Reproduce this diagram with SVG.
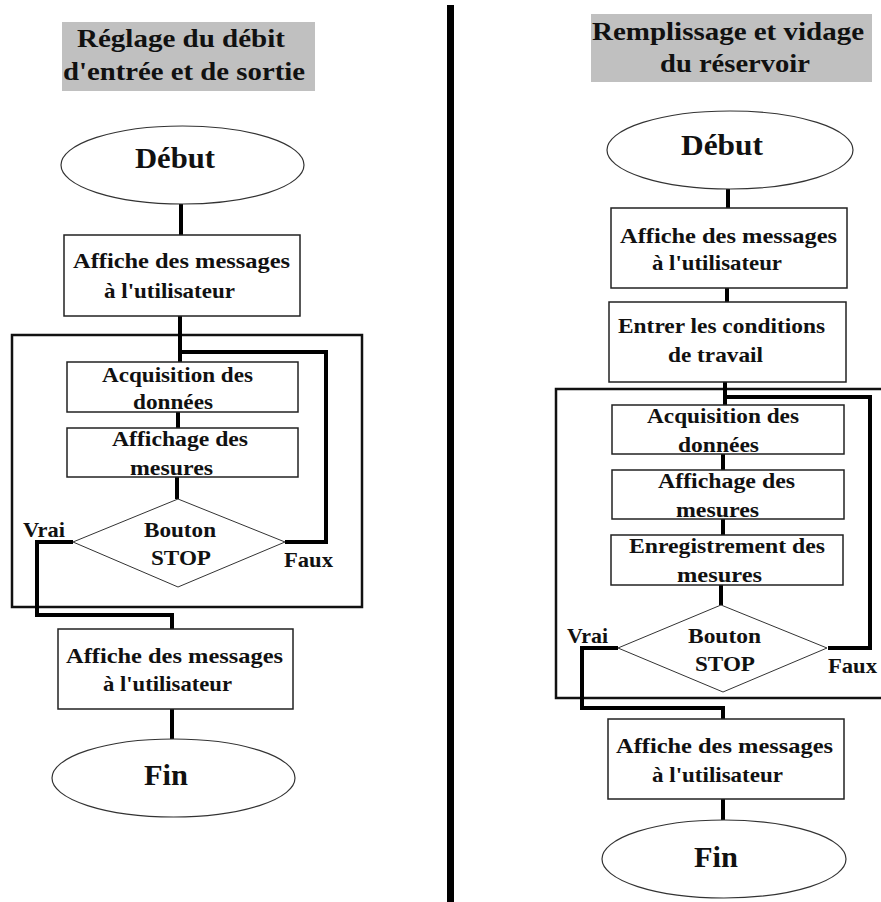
<svg xmlns="http://www.w3.org/2000/svg" width="881" height="902" viewBox="0 0 881 902">
<style>
text{font-family:"Liberation Serif","Times New Roman",serif;fill:#111;}
.t{font-size:25px;font-weight:bold;}
.big{font-size:30px;font-weight:bold;}
.b{font-size:21px;font-weight:bold;}
.lbl{font-size:21px;font-weight:bold;}
.title{fill:#c0c0c0;stroke:none;}
.box{fill:#fff;stroke:#222;stroke-width:1.5;}
.term{fill:#fff;stroke:#333;stroke-width:1.2;}
.dia{fill:#fff;stroke:#333;stroke-width:1;}
.frame{fill:none;stroke:#111;stroke-width:2.5;}
.c{fill:none;stroke:#000;stroke-width:4;}
</style>
<rect width="881" height="902" fill="#fff"/>
<rect id="divider" x="447" y="5" width="7" height="897" fill="#000"/>

<g id="left-title">
<rect class="title" x="62" y="22" width="253" height="69"/>
<text class="t" x="77" y="47" textLength="208" lengthAdjust="spacingAndGlyphs">Réglage du débit</text>
<text class="t" x="63" y="80" textLength="242" lengthAdjust="spacingAndGlyphs">d'entrée et de sortie</text>
</g>
<g id="right-title">
<rect class="title" x="591" y="14" width="281" height="68"/>
<text class="t" x="592" y="40" textLength="272" lengthAdjust="spacingAndGlyphs">Remplissage et vidage</text>
<text class="t" x="660" y="72" textLength="150" lengthAdjust="spacingAndGlyphs">du réservoir</text>
</g>

<g id="frames">
<rect class="frame" x="12" y="335" width="350" height="272"/>
<rect class="frame" x="556" y="389" width="340" height="309"/>
</g>

<g id="connectors">
<line class="c" x1="181" y1="204" x2="181" y2="235"/>
<path class="c" d="M180 316 V362"/>
<path class="c" d="M180 352 H326 V542 H285"/>
<line class="c" x1="178" y1="412" x2="178" y2="428"/>
<line class="c" x1="177" y1="477" x2="177" y2="499"/>
<path class="c" d="M73 542 H37 V615 H172 V629"/>
<line class="c" x1="172" y1="709" x2="172" y2="739"/>

<line class="c" x1="728" y1="189" x2="728" y2="208"/>
<line class="c" x1="727" y1="288" x2="727" y2="302"/>
<path class="c" d="M725 382 V405"/>
<path class="c" d="M725 397 H870 V648 H828"/>
<line class="c" x1="723" y1="454" x2="723" y2="470"/>
<line class="c" x1="723" y1="519" x2="723" y2="535"/>
<line class="c" x1="721" y1="585" x2="721" y2="605"/>
<path class="c" d="M618 648 H582 V708 H723 V719"/>
<line class="c" x1="723" y1="799" x2="723" y2="820"/>
</g>

<g id="L-debut">
<ellipse class="term" cx="182.5" cy="165" rx="121.5" ry="39"/>
<text class="big" x="135" y="168" textLength="80" lengthAdjust="spacingAndGlyphs">Début</text>
</g>
<g id="L-affiche1">
<rect class="box" x="64" y="235" width="236" height="81"/>
<text class="b" x="73" y="268" textLength="217" lengthAdjust="spacingAndGlyphs">Affiche des messages</text>
<text class="b" x="104" y="298" textLength="131" lengthAdjust="spacingAndGlyphs">à l'utilisateur</text>
</g>
<g id="L-acq">
<rect class="box" x="67" y="362" width="231" height="50"/>
<text class="b" x="102" y="382" textLength="151" lengthAdjust="spacingAndGlyphs">Acquisition des</text>
<text class="b" x="133" y="409" textLength="80" lengthAdjust="spacingAndGlyphs">données</text>
</g>
<g id="L-aff">
<rect class="box" x="67" y="428" width="231" height="49"/>
<text class="b" x="112" y="446" textLength="136" lengthAdjust="spacingAndGlyphs">Affichage des</text>
<text class="b" x="130" y="475" textLength="83" lengthAdjust="spacingAndGlyphs">mesures</text>
</g>
<g id="L-stop">
<polygon class="dia" points="178,499 285,542 178,587 73,542"/>
<text class="b" x="144" y="537" textLength="72" lengthAdjust="spacingAndGlyphs">Bouton</text>
<text class="b" x="151" y="565" textLength="60" lengthAdjust="spacingAndGlyphs">STOP</text>
</g>
<g id="L-labels">
<text class="lbl" x="23" y="537" textLength="42" lengthAdjust="spacingAndGlyphs">Vrai</text>
<text class="lbl" x="284" y="567" textLength="49" lengthAdjust="spacingAndGlyphs">Faux</text>
</g>
<g id="L-affiche2">
<rect class="box" x="58" y="629" width="235" height="80"/>
<text class="b" x="66" y="663" textLength="217" lengthAdjust="spacingAndGlyphs">Affiche des messages</text>
<text class="b" x="103" y="691" textLength="129" lengthAdjust="spacingAndGlyphs">à l'utilisateur</text>
</g>
<g id="L-fin">
<ellipse class="term" cx="173.5" cy="778" rx="121.5" ry="39"/>
<text class="big" x="144" y="785" textLength="44" lengthAdjust="spacingAndGlyphs">Fin</text>
</g>

<g id="R-debut">
<ellipse class="term" cx="730" cy="150" rx="123" ry="39"/>
<text class="big" x="681" y="155" textLength="82" lengthAdjust="spacingAndGlyphs">Début</text>
</g>
<g id="R-affiche1">
<rect class="box" x="611" y="208" width="236" height="80"/>
<text class="b" x="620" y="243" textLength="217" lengthAdjust="spacingAndGlyphs">Affiche des messages</text>
<text class="b" x="652" y="270" textLength="130" lengthAdjust="spacingAndGlyphs">à l'utilisateur</text>
</g>
<g id="R-entrer">
<rect class="box" x="609" y="302" width="237" height="80"/>
<text class="b" x="618" y="333" textLength="207" lengthAdjust="spacingAndGlyphs">Entrer les conditions</text>
<text class="b" x="668" y="362" textLength="95" lengthAdjust="spacingAndGlyphs">de travail</text>
</g>
<g id="R-acq">
<rect class="box" x="612" y="405" width="232" height="49"/>
<text class="b" x="647" y="423" textLength="152" lengthAdjust="spacingAndGlyphs">Acquisition des</text>
<text class="b" x="678" y="452" textLength="81" lengthAdjust="spacingAndGlyphs">données</text>
</g>
<g id="R-aff">
<rect class="box" x="612" y="470" width="232" height="49"/>
<text class="b" x="658" y="488" textLength="137" lengthAdjust="spacingAndGlyphs">Affichage des</text>
<text class="b" x="676" y="517" textLength="83" lengthAdjust="spacingAndGlyphs">mesures</text>
</g>
<g id="R-enreg">
<rect class="box" x="611" y="535" width="232" height="50"/>
<text class="b" x="629" y="553" textLength="196" lengthAdjust="spacingAndGlyphs">Enregistrement des</text>
<text class="b" x="677" y="582" textLength="85" lengthAdjust="spacingAndGlyphs">mesures</text>
</g>
<g id="R-stop">
<polygon class="dia" points="721,605 827,648 723,692 618,648"/>
<text class="b" x="688" y="643" textLength="73" lengthAdjust="spacingAndGlyphs">Bouton</text>
<text class="b" x="695" y="671" textLength="60" lengthAdjust="spacingAndGlyphs">STOP</text>
</g>
<g id="R-labels">
<text class="lbl" x="567" y="643" textLength="41" lengthAdjust="spacingAndGlyphs">Vrai</text>
<text class="lbl" x="828" y="673" textLength="49" lengthAdjust="spacingAndGlyphs">Faux</text>
</g>
<g id="R-affiche2">
<rect class="box" x="608" y="719" width="236" height="80"/>
<text class="b" x="616" y="753" textLength="217" lengthAdjust="spacingAndGlyphs">Affiche des messages</text>
<text class="b" x="652" y="782" textLength="131" lengthAdjust="spacingAndGlyphs">à l'utilisateur</text>
</g>
<g id="R-fin">
<ellipse class="term" cx="724" cy="859" rx="122" ry="39"/>
<text class="big" x="694" y="867" textLength="44" lengthAdjust="spacingAndGlyphs">Fin</text>
</g>
</svg>
